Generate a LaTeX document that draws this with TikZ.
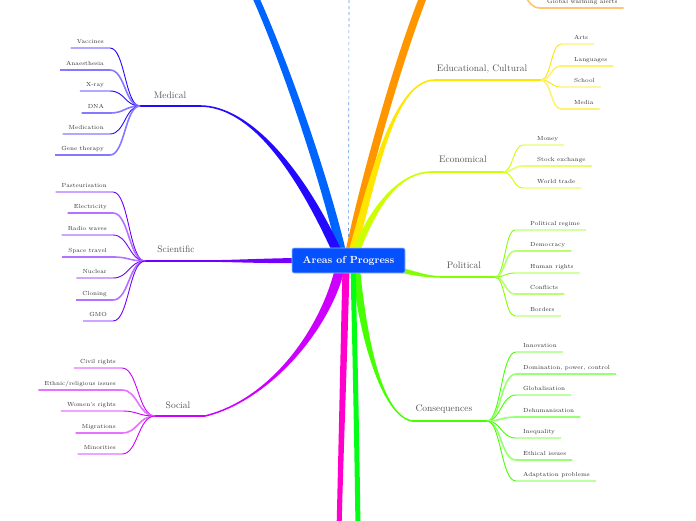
\documentclass[tikz,border=0pt]{standalone}
\usepackage{tikz}
\usetikzlibrary{calc,backgrounds}
\definecolor{rootblue}{RGB}{5,80,255}
\definecolor{topblue}{RGB}{0,100,255}
\definecolor{medblue}{RGB}{35,10,255}
\definecolor{scivio}{RGB}{115,0,255}
\definecolor{socpur}{RGB}{205,0,255}
\definecolor{pinkbr}{RGB}{255,0,205}
\definecolor{greenbr}{RGB}{0,255,20}
\definecolor{consgreen}{RGB}{70,255,0}
\definecolor{polgreen}{RGB}{130,255,0}
\definecolor{ecoyel}{RGB}{205,255,0}
\definecolor{eduyel}{RGB}{255,230,0}
\definecolor{orangebr}{RGB}{255,150,0}
\definecolor{labgray}{RGB}{85,85,85}
\definecolor{guideblue}{RGB}{100,150,225}

% tapered main branch: colour, start, c1, c2, end, half width at start, at end
\newcommand{\taper}[7]{%
  \fill[#1] ($#2-#6$) .. controls ($#3-#6$) and ($#4-#7$) .. ($#5-#7$)
    -- ($#5+#7$) .. controls ($#4+#7$) and ($#3+#6$) .. ($#2+#6$) -- cycle;}

\begin{document}
\begin{tikzpicture}[x=1pt,y=-1pt,
  rootbox/.style={draw=white!60!rootblue,line width=0.6pt,fill=rootblue,rounded corners=2pt,
    minimum width=113pt,minimum height=25pt,text=white,font=\fontsize{10.3}{12}\selectfont\bfseries},
  branchlabel/.style={text=labgray,font=\fontsize{9.5}{11}\selectfont,inner sep=0pt},
  leaftext/.style={font=\fontsize{5.9}{7}\selectfont,text=black!80,inner xsep=6pt,inner ysep=2.7pt,text depth=1.8pt},
  leaf1/.style={draw=#1,line width=0.9pt},
  leaf2/.style={draw=#1!55,line width=1.6pt},
  hubline/.style={draw=#1,line width=1.5pt},
  guide/.style={guideblue,dashed,line width=0.6pt}]
\useasboundingbox (0,0) rectangle (696,520);
\clip (0,0) rectangle (696,520);

% Central topic
\node[rootbox] (root) at (348.5,260.5) {Areas of Progress};

% Branch starts, ends and hubs
\coordinate (sTop) at ([xshift=-6.5pt,yshift=-6pt]root.north);
\coordinate (sMed) at ([xshift=-10.5pt,yshift=-6pt]root.north);
\coordinate (sOra) at ([xshift=0.5pt,yshift=-6pt]root.north);
\coordinate (sEdu) at ([xshift=3.5pt,yshift=-6pt]root.north);
\coordinate (sEco) at ([xshift=6.5pt,yshift=-6pt]root.north);
\coordinate (sSci) at ([xshift=5pt]root.west);
\coordinate (sPol) at ([xshift=-5pt,yshift=3pt]root.south east);
\coordinate (sSoc) at ([xshift=-8.5pt,yshift=5pt]root.south);
\coordinate (sPink) at ([xshift=-2.5pt,yshift=5pt]root.south);
\coordinate (sGrn) at ([xshift=4.5pt,yshift=5pt]root.south);
\coordinate (sCons) at ([xshift=7.5pt,yshift=5pt]root.south);
\coordinate (dTop) at (349,0);
\coordinate (topEnd) at (250,-15);
\coordinate (oraEnd) at (428,-15);
\coordinate (pinkEnd) at (339,530);
\coordinate (grnEnd) at (358,530);
\coordinate (medEnd) at (200,106);  \coordinate (medHub) at (140,106);
\coordinate (sciEnd) at (205,261);  \coordinate (sciHub) at (145,261);
\coordinate (socEnd) at (205,416);  \coordinate (socHub) at (155,416);
\coordinate (eduEnd) at (435,80);   \coordinate (eduHub) at (541,80);
\coordinate (ecoEnd) at (432,172);  \coordinate (ecoHub) at (503,172);
\coordinate (polEnd) at (445,277);  \coordinate (polHub) at (495,277);
\coordinate (conEnd) at (412,421);  \coordinate (conHub) at (487,421);
\coordinate (oraHub) at (515,-15);

% Main branches
\begin{scope}[on background layer]
\clip (0,0) rectangle (696,520);
\draw[guide] (dTop) -- (root.north);
\taper{topblue}{(sTop)}{(325,180)}{(283,55)}{(topEnd)}{(4.5,0)}{(3.5,0)}
\taper{medblue}{(sMed)}{(300,170)}{(250,106)}{(medEnd)}{(5,0)}{(0,-0.8)}
\taper{orangebr}{(sOra)}{(362,190)}{(397,60)}{(oraEnd)}{(4,0)}{(4,0)}
\taper{eduyel}{(sEdu)}{(375,170)}{(395,80)}{(eduEnd)}{(4,0)}{(0,0.8)}
\taper{ecoyel}{(sEco)}{(370,215)}{(395,172)}{(ecoEnd)}{(4,0)}{(0,0.8)}
\taper{scivio}{(sSci)}{(260,261)}{(230,261)}{(sciEnd)}{(0,2.5)}{(0,0.8)}
\taper{socpur}{(sSoc)}{(325,330)}{(270,400)}{(socEnd)}{(5,0)}{(0,0.8)}
\taper{consgreen}{(sCons)}{(362,330)}{(380,415)}{(conEnd)}{(4,0)}{(0,-0.8)}
\taper{greenbr}{(sGrn)}{(355,350)}{(357,450)}{(grnEnd)}{(2.5,0)}{(2.5,0)}
\taper{pinkbr}{(sPink)}{(344,350)}{(341,450)}{(pinkEnd)}{(3.5,0)}{(2.5,0)}
\taper{polgreen}{(sPol)}{(415,273)}{(425,277)}{(polEnd)}{(0,2.5)}{(0,0.8)}
\end{scope}

% Hub lines
\draw[hubline=medblue] (medEnd) -- (medHub);
\draw[hubline=scivio] (sciEnd) -- (sciHub);
\draw[hubline=socpur] (socEnd) -- (socHub);
\draw[hubline=eduyel] (eduEnd) -- (eduHub);
\draw[hubline=ecoyel] (ecoEnd) -- (ecoHub);
\draw[hubline=polgreen] (polEnd) -- (polHub);
\draw[hubline=consgreen] (conEnd) -- (conHub);

% Branch labels
\node[branchlabel] (medLab) at (170,95) {Medical};
\node[branchlabel] (sciLab) at (176,249) {Scientific};
\node[branchlabel] (socLab) at (178,405) {Social};
\node[branchlabel] (eduLab) at (482,69) {Educational, Cultural};
\node[branchlabel] (ecoLab) at (463,159) {Economical};
\node[branchlabel] (polLab) at (464,265) {Political};
\node[branchlabel] (conLab) at (444,409) {Consequences};

% Left leaves
\foreach \t/\y/\k [count=\i] in {Vaccines/48/1, Anaesthesia/70/2, X-ray/91/1, DNA/113/2, Medication/134/1, Gene therapy/155/2}{
  \node[leaftext,anchor=south east] (med\i) at (110,\y) {\t};
  \draw[leaf\k=medblue] (medHub) .. controls (125,106) and (125,\y) .. (med\i.south east) -- (med\i.south west);
}
\foreach \t/\y/\k [count=\i] in {Pasteurisation/192/1, Electricity/213/2, Radio waves/235/1, Space travel/257/2, Nuclear/278/1, Cloning/300/2, GMO/321/1}{
  \node[leaftext,anchor=south east] (sci\i) at (113,\y) {\t};
  \draw[leaf\k=scivio] (sciHub) .. controls (129,261) and (129,\y) .. (sci\i.south east) -- (sci\i.south west);
}
\foreach \t/\y/\k [count=\i] in {Civil rights/368/1, {Ethnic/religious issues}/390/2, Women's rights/411/1, Migrations/433/2, Minorities/454/1}{
  \node[leaftext,anchor=south east] (soc\i) at (122,\y) {\t};
  \draw[leaf\k=socpur] (socHub) .. controls (138,416) and (138,\y) .. (soc\i.south east) -- (soc\i.south west);
}

% Right leaves
\foreach \t/\y/\k [count=\i] in {Arts/44/1, Languages/66/2, School/87/1, Media/109/2}{
  \node[leaftext,anchor=south west] (edu\i) at (568,\y) {\t};
  \draw[leaf\k=eduyel] (eduHub) .. controls (551,80) and (551,\y) .. (561,\y) -- (edu\i.south east);
}
\foreach \t/\y/\k [count=\i] in {Money/145/1, Stock exchange/166/2, World trade/188/1}{
  \node[leaftext,anchor=south west] (eco\i) at (531,\y) {\t};
  \draw[leaf\k=ecoyel] (ecoHub) .. controls (513,172) and (513,\y) .. (523,\y) -- (eco\i.south east);
}
\foreach \t/\y/\k [count=\i] in {Political regime/230/1, Democracy/251/2, Human rights/273/1, Conflicts/294/2, Borders/316/1}{
  \node[leaftext,anchor=south west] (pol\i) at (524,\y) {\t};
  \draw[leaf\k=polgreen] (polHub) .. controls (505,277) and (505,\y) .. (515,\y) -- (pol\i.south east);
}
\foreach \t/\y/\k [count=\i] in {Innovation/352/1, {Domination, power, control}/374/2, Globalisation/395/1, Dehumanisation/417/2, Inequality/438/1, Ethical issues/460/2, Adaptation problems/481/1}{
  \node[leaftext,anchor=south west] (con\i) at (517,\y) {\t};
  \draw[leaf\k=consgreen] (conHub) .. controls (501,421) and (501,\y) .. (516,\y) -- (con\i.south east);
}
\node[leaftext,anchor=south west] (ora1) at (541,8) {Global warming alerts};
\draw[leaf2=orangebr] (oraHub) .. controls (525,-15) and (525,8) .. (540,8) -- (ora1.south east);
\end{tikzpicture}
\end{document}
